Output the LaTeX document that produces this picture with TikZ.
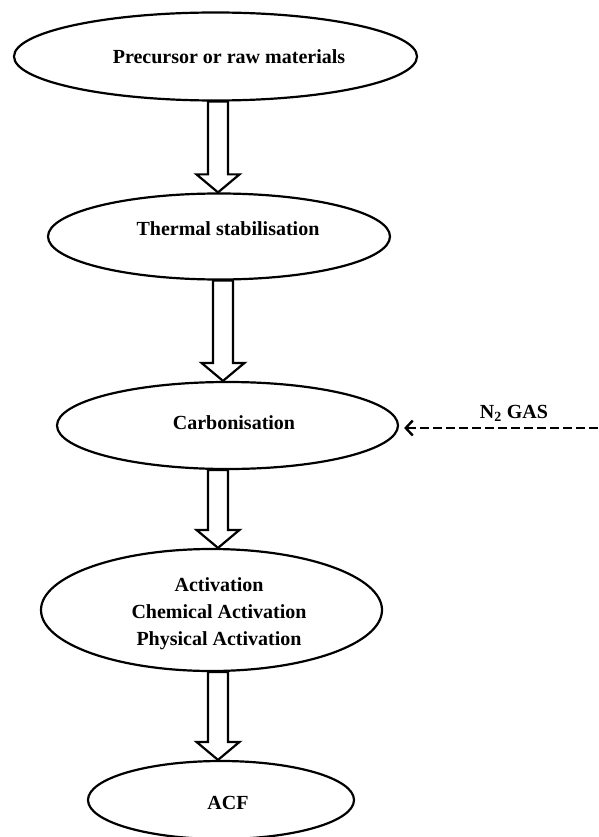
\documentclass[tikz,border=0pt]{standalone}
\usepackage{fontspec}
\setmainfont{Liberation Serif}
\usetikzlibrary{shapes.geometric,arrows.meta,calc}

\tikzset{
    stage/.style={draw, ellipse, line width=2.2pt, inner sep=0pt},
    stagetext/.style={font=\bfseries\fontsize{20}{27}\selectfont, align=center, inner sep=0pt},
    blockarr/.style={draw, line width=2.2pt, fill=white, line join=miter},
    gasline/.style={line width=2.6pt, dash pattern=on 9pt off 4pt,
        -{Straight Barb[length=7pt,width=15pt,line width=2.4pt]}}
}

% block arrow: x position, start anchor, tip anchor
\newcommand{\blockarrow}[3]{%
    \coordinate (arrx) at (#1,0);
    \coordinate (arrtop) at (arrx |- #2);
    \coordinate (arrtip) at (arrx |- #3);
    \draw[blockarr]
        ($(arrtop)+(-10,0)$) -- ($(arrtip)+(-10,-18)$) -- ($(arrtip)+(-21.5,-18)$)
        -- (arrtip) -- ($(arrtip)+(21.5,-18)$) -- ($(arrtip)+(10,-18)$)
        -- ($(arrtop)+(10,0)$) -- cycle;
}

\begin{document}
\begin{tikzpicture}[x=1pt, y=-1pt]

\useasboundingbox (0,0) rectangle (598,837);

% Stages
\node[stage, minimum width=403, minimum height=88] (pre) at (215.5,56.5) {};
\node[stage, minimum width=342, minimum height=86] (therm) at (219,236.5) {};
\node[stage, minimum width=341, minimum height=87] (carb) at (227.5,425.5) {};
\node[stage, minimum width=341, minimum height=122] (act) at (211.5,610) {};
\node[stage, minimum width=266, minimum height=78] (acf) at (221,800) {};

% Stage texts
\node[stagetext] (preT) at (229,57) {Precursor or raw materials};
\node[stagetext] (thermT) at (228,229) {Thermal stabilisation};
\node[stagetext] (carbT) at (234,423) {Carbonisation};
\node[stagetext] (actT) at (219,614) {Activation\\Chemical Activation\\Physical Activation};
\node[stagetext] (acfT) at (228,803) {ACF};

% Block arrows
\blockarrow{218}{pre.south}{therm.north}
\blockarrow{223}{therm.south}{carb.north}
\blockarrow{218}{carb.south}{act.north}
\blockarrow{218}{act.south}{acf.north}

% Nitrogen feed
\coordinate (gasin) at (598,428);
\draw[gasline] (gasin) -- ($(carb.east)+(5,2.5)$);
\node[stagetext] (gas) at (514,413) {N\textsubscript{2} GAS};

\end{tikzpicture}
\end{document}
